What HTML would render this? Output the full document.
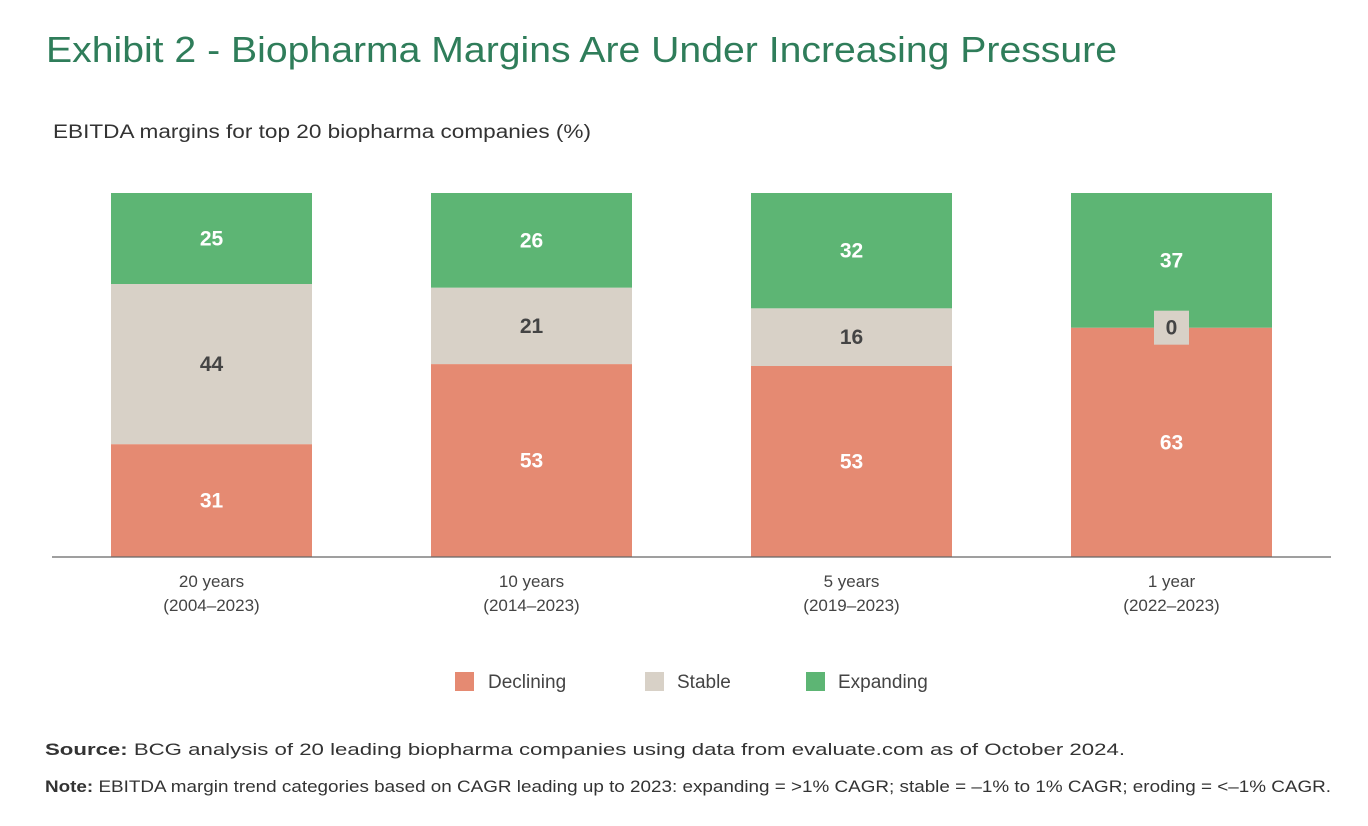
<!DOCTYPE html>
<html><head><meta charset="utf-8"><style>
html,body{margin:0;padding:0;background:#fff;}
svg{display:block;font-family:"Liberation Sans",sans-serif;}
</style></head><body>
<svg id="chart" width="1368" height="826" viewBox="0 0 1368 826" xmlns="http://www.w3.org/2000/svg">
<text x="46" y="62" font-size="36" fill="#2F7D5A" textLength="1071" lengthAdjust="spacingAndGlyphs">Exhibit 2 - Biopharma Margins Are Under Increasing Pressure</text>
<text x="53" y="138" font-size="19" fill="#333" textLength="538" lengthAdjust="spacingAndGlyphs">EBITDA margins for top 20 biopharma companies (%)</text>
<g id="bars"></g>
<g id="labels"></g>
<line x1="52" y1="557" x2="1331" y2="557" stroke="#666" stroke-width="1.2"/>
<g id="xlabels"></g>
<g>
<rect x="455" y="672" width="19" height="19" fill="#E58A72"/>
<text x="488" y="688" font-size="19" fill="#444">Declining</text>
<rect x="645" y="672" width="19" height="19" fill="#D8D1C7"/>
<text x="677" y="688" font-size="19" fill="#444">Stable</text>
<rect x="806" y="672" width="19" height="19" fill="#5DB574"/>
<text x="838" y="688" font-size="19" fill="#444">Expanding</text>
</g>
<text x="45" y="755" font-size="17" fill="#333" textLength="1080" lengthAdjust="spacingAndGlyphs"><tspan font-weight="bold">Source:</tspan> BCG analysis of 20 leading biopharma companies using data from evaluate.com as of October 2024.</text>
<text x="45" y="792" font-size="17" fill="#333" textLength="1286" lengthAdjust="spacingAndGlyphs"><tspan font-weight="bold">Note:</tspan> EBITDA margin trend categories based on CAGR leading up to 2023: expanding = &gt;1% CAGR; stable = –1% to 1% CAGR; eroding = &lt;–1% CAGR.</text>
</svg>
<script>
const categories = ["20 years", "10 years", "5 years", "1 year"];
const periods = ["(2004–2023)", "(2014–2023)", "(2019–2023)", "(2022–2023)"];
const declining = [31, 53, 53, 63];
const stable = [44, 21, 16, 0];
const expanding = [25, 26, 32, 37];

const NS = "http://www.w3.org/2000/svg";
const baseY = 557, plotH = 364, barW = 201, firstX = 111, step = 320;
function yScale(v, total){ return baseY - v / total * plotH; }
function xScale(i){ return firstX + i * step; }
const series = [
  {name:"declining", vals:declining, color:"#E58A72", text:"#fff"},
  {name:"stable", vals:stable, color:"#D8D1C7", text:"#444"},
  {name:"expanding", vals:expanding, color:"#5DB574", text:"#fff"}
];
const bars = document.getElementById("bars");
const labels = document.getElementById("labels");
const xl = document.getElementById("xlabels");
categories.forEach((c, i) => {
  let cum = 0;
  const x = xScale(i);
  const total = declining[i] + stable[i] + expanding[i];
  series.forEach(s => {
    const v = s.vals[i];
    const y0 = yScale(cum, total), y1 = yScale(cum + v, total);
    const r = document.createElementNS(NS, "rect");
    
    
    r.setAttribute("x", x); r.setAttribute("y", y1);
    r.setAttribute("width", barW); r.setAttribute("height", Math.max(0, y0 - y1));
    r.setAttribute("fill", s.color);
    bars.appendChild(r);
    const cy = (y0 + y1) / 2;
    if (v === 0) {
      const b = document.createElementNS(NS, "rect");
      
      
      b.setAttribute("x", x + barW / 2 - 17.5); b.setAttribute("y", cy - 17);
      b.setAttribute("width", 35); b.setAttribute("height", 34);
      b.setAttribute("fill", s.color);
      labels.appendChild(b);
    }
    const t = document.createElementNS(NS, "text");
    
    
    t.setAttribute("x", x + barW / 2); t.setAttribute("y", cy + 7);
    t.setAttribute("text-anchor", "middle"); t.setAttribute("font-size", "21");
    t.setAttribute("font-weight", "bold"); t.setAttribute("fill", s.text);
    t.textContent = v;
    labels.appendChild(t);
    cum += v;
  });
  [c, periods[i]].forEach((txt, k) => {
    const t = document.createElementNS(NS, "text");
    
    
    t.setAttribute("x", x + barW / 2); t.setAttribute("y", 587 + k * 24);
    t.setAttribute("text-anchor", "middle"); t.setAttribute("font-size", "17");
    t.setAttribute("fill", "#444");
    t.textContent = txt;
    xl.appendChild(t);
  });
});
</script>
</body></html>
